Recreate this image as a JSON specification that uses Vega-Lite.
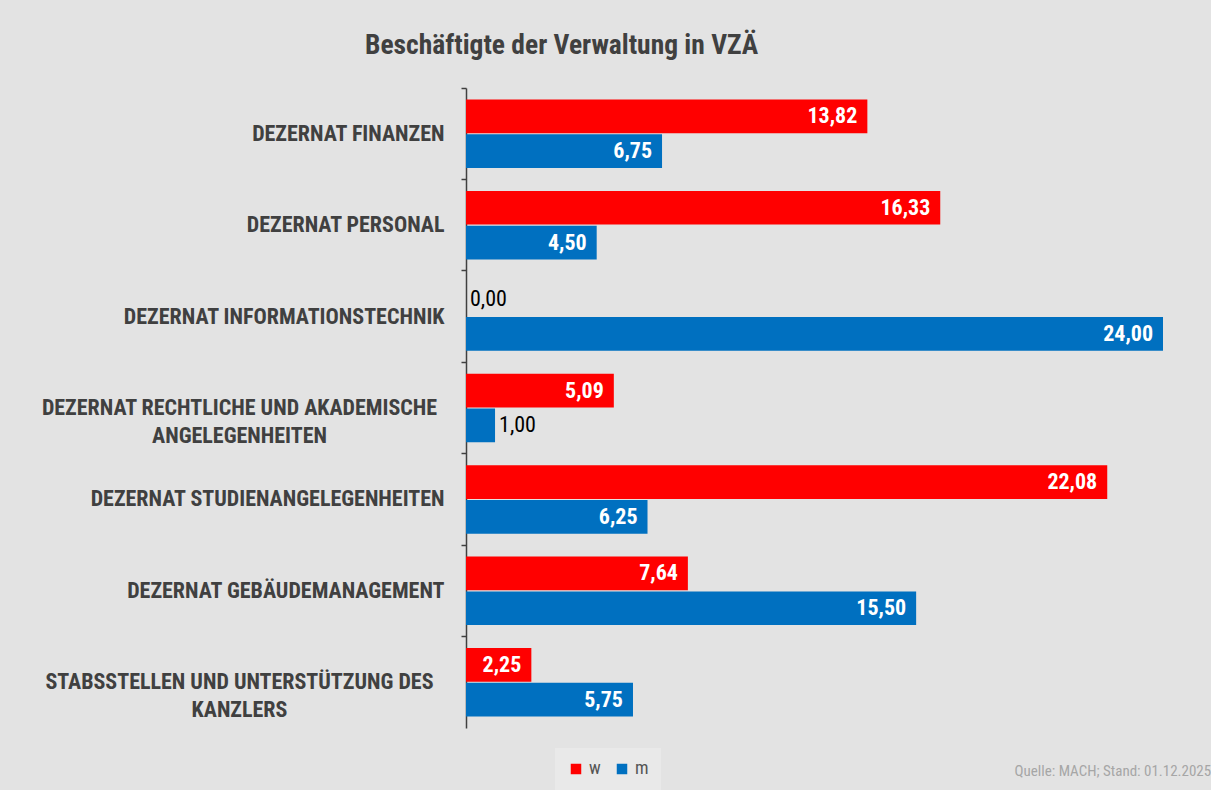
{
  "$schema": "https://vega.github.io/schema/vega-lite/v6.json",
  "width": 697,
  "height": 640,
  "autosize": {"type": "none"},
  "padding": {"left": 466, "top": 88, "right": 48, "bottom": 62},
  "background": "#e3e3e3",
  "title": {
    "text": "Beschäftigte der Verwaltung in VZÄ",
    "anchor": "start",
    "frame": "group",
    "dx": -101,
    "offset": 28,
    "fontSize": 27.5,
    "fontWeight": "bold",
    "color": "#404040"
  },
  "data": {
    "values": [
      {"cat": "DEZERNAT FINANZEN", "g": "w", "v": 13.82},
      {"cat": "DEZERNAT FINANZEN", "g": "m", "v": 6.75},
      {"cat": "DEZERNAT PERSONAL", "g": "w", "v": 16.33},
      {"cat": "DEZERNAT PERSONAL", "g": "m", "v": 4.5},
      {"cat": "DEZERNAT INFORMATIONSTECHNIK", "g": "w", "v": 0},
      {"cat": "DEZERNAT INFORMATIONSTECHNIK", "g": "m", "v": 24},
      {"cat": "DEZERNAT RECHTLICHE UND AKADEMISCHE ANGELEGENHEITEN", "g": "w", "v": 5.09},
      {"cat": "DEZERNAT RECHTLICHE UND AKADEMISCHE ANGELEGENHEITEN", "g": "m", "v": 1},
      {"cat": "DEZERNAT STUDIENANGELEGENHEITEN", "g": "w", "v": 22.08},
      {"cat": "DEZERNAT STUDIENANGELEGENHEITEN", "g": "m", "v": 6.25},
      {"cat": "DEZERNAT GEBÄUDEMANAGEMENT", "g": "w", "v": 7.64},
      {"cat": "DEZERNAT GEBÄUDEMANAGEMENT", "g": "m", "v": 15.5},
      {"cat": "STABSSTELLEN UND UNTERSTÜTZUNG DES KANZLERS", "g": "w", "v": 2.25},
      {"cat": "STABSSTELLEN UND UNTERSTÜTZUNG DES KANZLERS", "g": "m", "v": 5.75}
    ]
  },
  "encoding": {
    "y": {
      "field": "cat",
      "type": "nominal",
      "sort": null,
      "scale": {"paddingInner": 0, "paddingOuter": 0},
      "axis": {
        "title": null,
        "bandPosition": 0,
        "domainColor": "#404040",
        "domainWidth": 1.5,
        "tickColor": "#404040",
        "tickWidth": 1.5,
        "tickSize": 5,
        "labelFontSize": 22,
        "labelFontWeight": "bold",
        "labelColor": "#404040",
        "labelLimit": 0,
        "labelLineHeight": 28,
        "labelBaseline": "middle",
        "labelPadding": {"condition": {"test": "length(datum.value) > 35", "value": 222}, "value": 17},
        "labelAlign": {"condition": {"test": "length(datum.value) > 35", "value": "center"}, "value": "right"},
        "labelExpr": "datum.value == 'DEZERNAT RECHTLICHE UND AKADEMISCHE ANGELEGENHEITEN' ? ['DEZERNAT RECHTLICHE UND AKADEMISCHE', 'ANGELEGENHEITEN'] : datum.value == 'STABSSTELLEN UND UNTERSTÜTZUNG DES KANZLERS' ? ['STABSSTELLEN UND UNTERSTÜTZUNG DES', 'KANZLERS'] : datum.value"
      }
    },
    "yOffset": {
      "field": "g",
      "type": "nominal",
      "sort": ["w", "m"],
      "scale": {"paddingInner": 0.03, "paddingOuter": 0.33}
    },
    "x": {
      "field": "v",
      "type": "quantitative",
      "scale": {"domain": [0, 24], "nice": false},
      "axis": {
        "domain": false,
        "ticks": false,
        "labels": false,
        "grid": false,
        "title": "Quelle: MACH; Stand: 01.12.2025",
        "titleAnchor": "start",
        "titleAlign": "left",
        "titleBaseline": "alphabetic",
        "titleX": 548,
        "titleY": 47,
        "titleFontSize": 15,
        "titleFontWeight": "normal",
        "titleColor": "#a6a6a6"
      }
    }
  },
  "layer": [
    {
      "mark": {"type": "bar"},
      "encoding": {
        "color": {
          "field": "g",
          "type": "nominal",
          "scale": {"domain": ["w", "m"], "range": ["#ff0000", "#0070c0"]},
          "legend": {
            "title": null,
            "orient": "none",
            "direction": "horizontal",
            "legendX": 89,
            "legendY": 660,
            "padding": 12,
            "fillColor": "#e9e9e9",
            "symbolType": "square",
            "symbolSize": 110,
            "symbolStrokeWidth": 0,
            "labelFontSize": 18,
            "labelColor": "#555555",
            "columnPadding": 12
          }
        }
      }
    },
    {
      "transform": [{"filter": "datum.v >= 2"}],
      "mark": {"type": "text", "align": "right", "baseline": "middle", "dx": -10, "color": "white", "fontSize": 22, "fontWeight": "bold", "text": {"expr": "replace(format(datum.v, '.2f'), '.', ',')"}}
    },
    {
      "transform": [{"filter": "datum.v < 2"}],
      "mark": {"type": "text", "align": "left", "baseline": "middle", "dx": 4, "color": "black", "fontSize": 22, "text": {"expr": "replace(format(datum.v, '.2f'), '.', ',')"}}
    }
  ],
  "config": {
    "font": "Roboto Condensed, Liberation Sans Narrow, DejaVu Sans Condensed, sans-serif",
    "view": {"stroke": null}
  }
}
